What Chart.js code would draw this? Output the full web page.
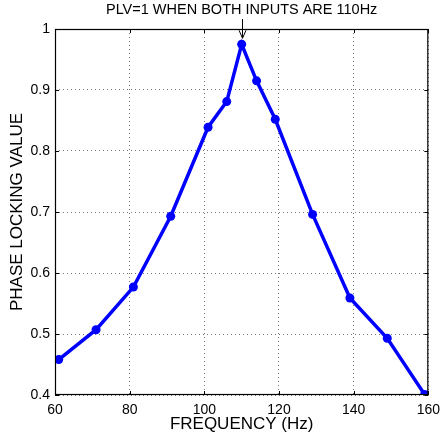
<!DOCTYPE html>
<html>
<head>
<meta charset="utf-8">
<script src="https://cdn.jsdelivr.net/npm/chart.js@4/dist/chart.umd.min.js"></script>
<style>
  html, body { margin: 0; padding: 0; background: #fff; }
  #wrap { width: 447px; height: 438px; }
</style>
</head>
<body>
<div id="wrap"><canvas id="plv"></canvas></div>
<script>
// data
var freqs = [61, 71, 81, 91, 101, 106, 110, 114, 119, 129, 139, 149, 159];
var plvValues = [0.458, 0.507, 0.577, 0.693, 0.839, 0.881, 0.975, 0.915, 0.852, 0.696, 0.559, 0.493, 0.401];
var xTicks = [60, 80, 100, 120, 140, 160];
var yTicks = [0.4, 0.5, 0.6, 0.7, 0.8, 0.9, 1];
var noteText = 'PLV=1 WHEN BOTH INPUTS ARE 110Hz';
var peakFreq = 110;

var points = freqs.map(function (f, i) { return { x: f, y: plvValues[i] }; });
var FONT = 'Liberation Sans, Arial, sans-serif';

// box, inner tick marks, note and arrow (matlab look)
var frame = {
    id: 'frame',
    afterDatasetsDraw: function (chart) {
        var ctx = chart.ctx, a = chart.chartArea;
        var xs = chart.scales.x, ys = chart.scales.y;
        ctx.save();
        ctx.strokeStyle = '#000';
        ctx.lineWidth = 1.2;
        ctx.strokeRect(a.left + 0.5, a.top + 0.5, a.right - a.left - 1, a.bottom - a.top - 1);
        ctx.lineWidth = 1;
        ctx.beginPath();
        xTicks.forEach(function (t) {
            var px = Math.round(xs.getPixelForValue(t)) + 0.5;
            ctx.moveTo(px, a.bottom); ctx.lineTo(px, a.bottom - 4);
            ctx.moveTo(px, a.top); ctx.lineTo(px, a.top + 4);
        });
        yTicks.forEach(function (t) {
            var py = Math.round(ys.getPixelForValue(t)) + 0.5;
            ctx.moveTo(a.left, py); ctx.lineTo(a.left + 4, py);
            ctx.moveTo(a.right, py); ctx.lineTo(a.right - 4, py);
        });
        ctx.stroke();

        // note text
        ctx.fillStyle = '#000';
        ctx.font = '14.5px ' + FONT;
        ctx.textAlign = 'center';
        ctx.textBaseline = 'middle';
        var cx = xs.getPixelForValue(peakFreq);
        ctx.fillText(noteText, (a.left + a.right) / 2, 10);

        // arrow to the peak
        var i = freqs.indexOf(peakFreq);
        var tipY = ys.getPixelForValue(plvValues[i]) - 6;
        var ax = Math.round(cx) + 0.5;
        ctx.beginPath();
        ctx.moveTo(ax, 19);
        ctx.lineTo(ax, tipY);
        ctx.stroke();
        ctx.beginPath();
        ctx.moveTo(ax - 3.5, tipY - 8);
        ctx.lineTo(ax, tipY);
        ctx.lineTo(ax + 3.5, tipY - 8);
        ctx.stroke();
        ctx.restore();
    }
};

var ctx = document.getElementById('plv').getContext('2d');
new Chart(ctx, {
    type: 'scatter',
    data: {
        datasets: [{
            data: points,
            showLine: true,
            borderColor: '#0000ff',
            backgroundColor: '#0000ff',
            borderWidth: 3.5,
            pointRadius: 4.5,
            pointBorderWidth: 0,
            pointHoverRadius: 4.5
        }]
    },
    options: {
        responsive: true,
        maintainAspectRatio: false,
        animation: false,
        events: [],
        layout: { padding: { top: 29, right: 12, left: 0, bottom: 0 } },
        plugins: { legend: { display: false }, tooltip: { enabled: false } },
        scales: {
            x: {
                type: 'linear',
                min: 60,
                max: 160,
                afterBuildTicks: function (s) { s.ticks = xTicks.map(function (v) { return { value: v }; }); },
                afterFit: function (s) { s.height = 43; },
                border: { display: false, dash: [1, 3] },
                grid: { color: '#777', drawTicks: false, lineWidth: 1 },
                ticks: { color: '#000', padding: 7, maxRotation: 0, font: { family: FONT, size: 14 } },
                title: {
                    display: true,
                    text: 'FREQUENCY (Hz)',
                    color: '#000',
                    font: { family: FONT, size: 17 },
                    padding: { top: 0, bottom: 3 }
                }
            },
            y: {
                min: 0.4,
                max: 1,
                afterBuildTicks: function (s) { s.ticks = yTicks.map(function (v) { return { value: v }; }); },
                afterFit: function (s) { s.width = 55; },
                border: { display: false, dash: [1, 3] },
                grid: { color: '#777', drawTicks: false, lineWidth: 1 },
                ticks: {
                    color: '#000',
                    padding: 5,
                    font: { family: FONT, size: 14 },
                    callback: function (v) { return String(Math.round(v * 10) / 10); }
                },
                title: {
                    display: true,
                    text: 'PHASE LOCKING VALUE',
                    color: '#000',
                    font: { family: FONT, size: 17 },
                    padding: { top: 7, bottom: 0 }
                }
            }
        }
    },
    plugins: [frame]
});
</script>
</body>
</html>
